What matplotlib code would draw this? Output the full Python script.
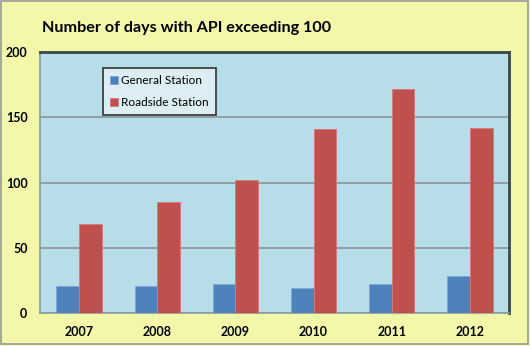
import matplotlib.pyplot as plt
import numpy as np
from matplotlib.patches import Rectangle

years = ["2007", "2008", "2009", "2010", "2011", "2012"]
general = [21, 21, 22, 19, 22, 28]
roadside = [68, 85, 102, 141, 172, 142]
y_ticks = [0, 50, 100, 150, 200]

BLUE = "#4F81BD"
RED = "#C0504D"
PLOT_BG = "#B7DEE8"
FIG_BG = "#F2F7AA"
FONT = "Lato"

fig = plt.figure(figsize=(5.30, 3.46), dpi=100, facecolor=FIG_BG)
ax = fig.add_axes([40 / 530, 1 - 313 / 346, 469 / 530, 261 / 346])
ax.set_facecolor(PLOT_BG)

# outer chart border
fig.patches.append(Rectangle((0.002, 0.005), 0.994, 0.993, transform=fig.transFigure,
                             fill=False, edgecolor="#9a9a9a", linewidth=1.2))

x = np.arange(len(years))
w = 0.29
ax.bar(x - w / 2, general, w, color=BLUE, edgecolor="#7fa6d4", linewidth=0.6,
       label="General Station", zorder=3)
ax.bar(x + w / 2, roadside, w, color=RED, edgecolor="#d47a78", linewidth=0.6,
       label="Roadside Station", zorder=3)

ax.set_xlim(-0.5, len(years) - 0.5)
ax.set_ylim(0, 200)
ax.set_xticks(x)
ax.set_xticklabels(years)
ax.set_yticks(y_ticks)
ax.tick_params(axis="both", length=0, labelsize=9)
ax.tick_params(axis="y", pad=9)
ax.tick_params(axis="x", pad=9)
for lab in ax.get_xticklabels() + ax.get_yticklabels():
    lab.set_fontweight("bold")
    lab.set_fontfamily(FONT)
ax.grid(axis="y", color="#8c9a9e", linewidth=1.3, zorder=1)

for side in ["left", "bottom"]:
    ax.spines[side].set_color("#8a9aa0")
    ax.spines[side].set_linewidth(1.2)
for side in ["top", "right"]:
    ax.spines[side].set_color("#3c474a")
    ax.spines[side].set_linewidth(2)

leg = ax.legend(loc="upper left", bbox_to_anchor=(0.122, 0.96),
                prop={"family": FONT, "size": 8.5}, frameon=True, fancybox=False,
                handlelength=0.7, handleheight=0.7, handletextpad=0.3,
                labelspacing=0.95, borderpad=0.55)
leg.get_frame().set_facecolor("#DCEEF3")
leg.get_frame().set_edgecolor("#404040")
leg.get_frame().set_linewidth(1.3)
leg.get_frame().set_alpha(1)

fig.text(42 / 530, 1 - 28 / 346, "Number of days with API exceeding 100",
         fontsize=11.6, fontweight="bold", family=FONT, va="center", ha="left")

fig.savefig("out.png", dpi=100, facecolor=FIG_BG)
